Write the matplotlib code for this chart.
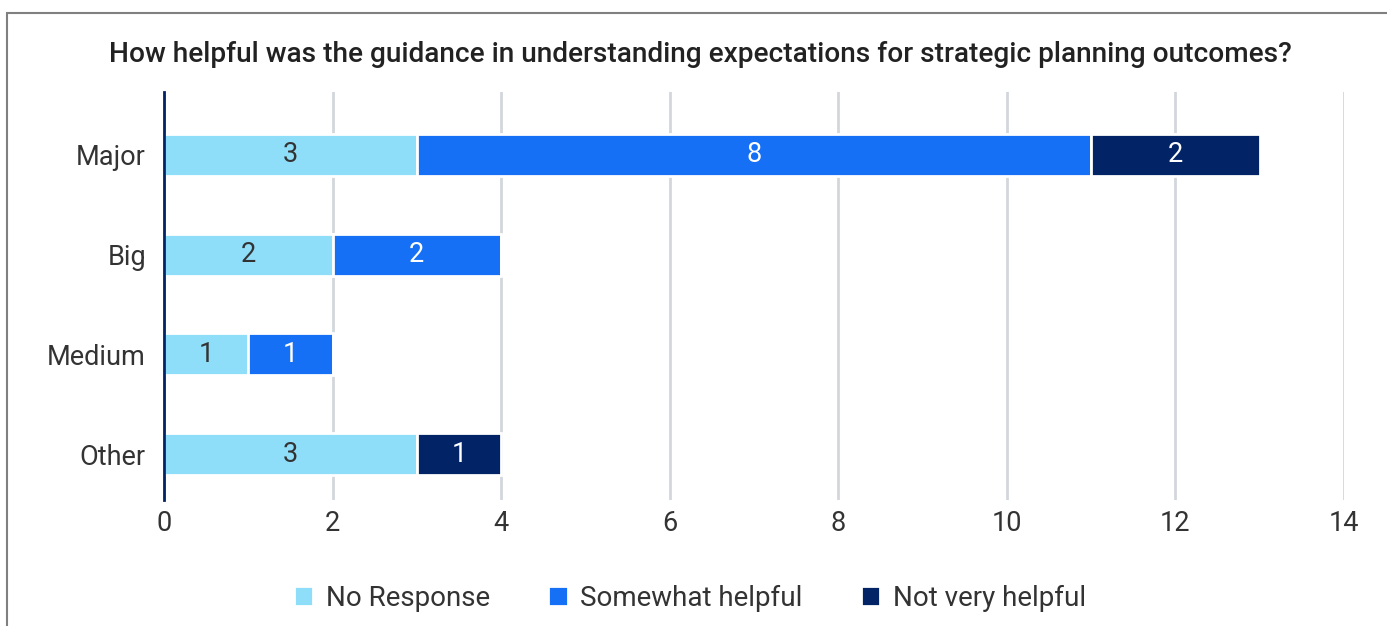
import matplotlib.pyplot as plt
import numpy as np
from matplotlib.patches import Rectangle

categories = ["Major", "Big", "Medium", "Other"]
series_names = ["No Response", "Somewhat helpful", "Not very helpful"]
no_response = [3, 2, 1, 3]
somewhat_helpful = [8, 2, 1, 0]
not_very_helpful = [2, 0, 0, 1]
x_ticks = [0, 2, 4, 6, 8, 10, 12, 14]

colours = ["#8EDDF9", "#1570F6", "#022366"]
label_colours = ["#333333", "white", "white"]

plt.rcParams['font.family'] = ['Roboto', 'DejaVu Sans']

fig = plt.figure(figsize=(13.87, 6.26), dpi=100)
ax = fig.add_axes([164 / 1387, 1 - 500 / 626, 1180 / 1387, 408 / 626])

y_pos = np.arange(len(categories))
left = np.zeros(len(categories))
for values, name, colour, text_colour in zip([no_response, somewhat_helpful, not_very_helpful],
                                             series_names, colours, label_colours):
    values = np.array(values, dtype=float)
    bars = ax.barh(y_pos, values, left=left, height=0.42, color=colour, edgecolor="white",
                   linewidth=2, label=name, zorder=3)
    for bar, value in zip(bars, values):
        if value > 0:
            ax.text(bar.get_x() + bar.get_width() / 2, bar.get_y() + bar.get_height() / 2,
                    f"{value:g}", ha="center", va="center", fontsize=19.5, color=text_colour, zorder=4)
    left += values

ax.set_xlim(0, 14)
ax.set_ylim(len(categories) - 1 + 0.46, -0.63)
ax.set_xticks(x_ticks)
ax.set_xticklabels([str(t) for t in x_ticks], fontsize=19.5, color="#333333")
ax.set_yticks(y_pos)
ax.set_yticklabels(categories, fontsize=19.5, color="#333333")
ax.tick_params(axis="x", length=0, pad=7)
ax.tick_params(axis="y", length=0, pad=13)
ax.grid(axis="x", color="#D3D6DB", linewidth=2, zorder=0)
for side in ["top", "right", "bottom"]:
    ax.spines[side].set_visible(False)
ax.spines["left"].set_color("#022366")
ax.spines["left"].set_linewidth(2)
ax.spines["left"].set_zorder(5)

fig.text(700 / 1387, 1 - 54 / 626,
         "How helpful was the guidance in understanding expectations for strategic planning outcomes?",
         ha="center", va="center", fontsize=20.2, fontweight="medium", color="#222222")

fig.legend(loc="center", bbox_to_anchor=(690 / 1387, 1 - 598 / 626), ncol=3, frameon=False,
           fontsize=20, handlelength=0.7, handleheight=0.7, handletextpad=0.45, columnspacing=2.1,
           labelcolor="#333333")

# outer frame around the figure
fig.patches.append(Rectangle((7 / 1387, -0.1), 1.1, 1 - 13 / 626 + 0.1, transform=fig.transFigure,
                             fill=False, edgecolor="#808080", linewidth=1.5))

fig.savefig("out.png", dpi=100)
